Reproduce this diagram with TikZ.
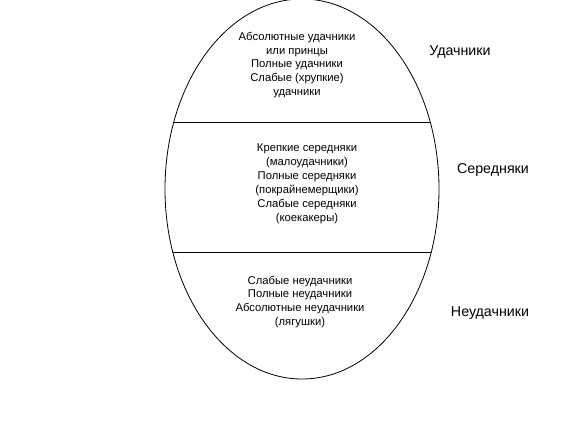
\documentclass[tikz,border=0pt]{standalone}
\usepackage{fontspec}
\setmainfont{Liberation Sans}
\usepackage{tikz}
\tikzset{
  inner/.style={align=center, inner sep=0pt, font=\fontsize{11.3}{14}\selectfont},
  side/.style={inner sep=0pt, font=\fontsize{14.3}{17}\selectfont}
}

\begin{document}
\begin{tikzpicture}[x=1bp,y=-1bp]
			%%%%% START %%%%%
			\useasboundingbox (0, 0) rectangle (576, 432);
			
			\draw[line width=0.8bp] (302, 189) ellipse [x radius=137, y radius=190];
			
			\begin{scope}
				\clip (302, 189) ellipse [x radius=137, y radius=190];
				\draw[line width=0.8bp] (160, 122) -- (445, 122);
				\draw[line width=0.8bp] (160, 252) -- (445, 252);
			\end{scope}
			
			\node[inner] (lucky) at (297, 65) {Абсолютные удачники\\или принцы\\Полные удачники\\Слабые (хрупкие)\\удачники};
			\node[inner] (middle) at (307, 184) {Крепкие середняки\\(малоудачники)\\Полные середняки\\(покрайнемерщики)\\Слабые середняки\\(коекакеры)};
			\node[inner] (unlucky) at (300, 302) {Слабые неудачники\\Полные неудачники\\Абсолютные неудачники\\(лягушки)};
			
			\node[side] (luckyname) at (460, 52) {Удачники};
			\node[side] (middlename) at (493, 170) {Середняки};
			\node[side] (unluckyname) at (490, 313) {Неудачники};
			
			%%%%% END %%%%%
\end{tikzpicture}
\end{document}
